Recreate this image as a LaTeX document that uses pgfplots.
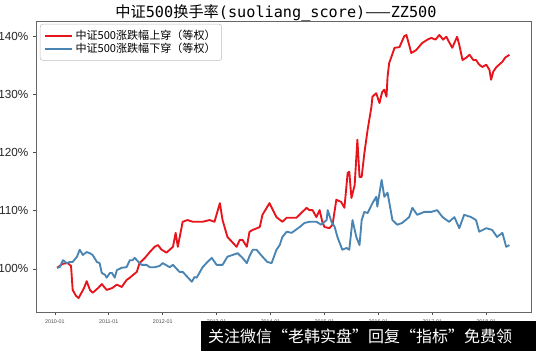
\documentclass[border=0pt]{standalone}
\usepackage{fontspec}
\setmainfont{Liberation Sans}
\newfontfamily\cjk{Noto Sans CJK SC}
\newfontfamily\mono{DejaVu Sans Mono}
\usepackage{pgfplots}
\pgfplotsset{compat=1.18}
\definecolor{mplred}{HTML}{E8141C}
\definecolor{mplblue}{HTML}{4A84B2}
\begin{document}
\begin{tikzpicture}
\useasboundingbox (-27pt,-29.25pt) rectangle (375pt,234pt);
\begin{axis}[
  at={(0,0)}, anchor=south west,
  scale only axis, width=371.25pt, height=218.25pt,
  xmin=2009.65, xmax=2018.83, ymin=92.6, ymax=142.6,
  xtick={2010,2011,2012,2013,2014,2015,2016,2017,2018},
  xticklabels={2010-01,2011-01,2012-01,2013-01,2014-01,2015-01,2016-01,2017-01,2018-01},
  ytick={100,110,120,130,140},
  yticklabels={100\%,110\%,120\%,130\%,140\%},
  tick align=outside, tick pos=left,
  major tick length=2.2pt,
  tick style={black!70, line width=0.5pt},
  axis line style={draw=black!60, line width=0.6pt},
  yticklabel style={font=\fontsize{8.8}{10}\selectfont, text=black!85},
  xticklabel style={font=\fontsize{4}{5}\selectfont, text=black!70},
  legend style={at={(0.008,0.99)}, anchor=north west, draw=black!25, rounded corners=2pt,
    fill=white, font=\cjk\fontsize{8.3}{9}\selectfont, row sep=-3pt, inner sep=2.5pt},
  legend cell align=left,
  legend image code/.code={\draw[#1,line width=1.5pt] (0cm,0cm) -- (0.72cm,0cm);},
]
\addplot[mplred, line width=1.4pt, line join=round] table {
2010.04 100.2
2010.15 100.9
2010.24 101.0
2010.30 100.5
2010.33 96.4
2010.39 95.4
2010.44 95.0
2010.54 96.7
2010.59 97.9
2010.65 96.4
2010.70 95.9
2010.80 96.7
2010.87 97.4
2010.96 96.4
2011.06 96.7
2011.15 97.3
2011.24 96.9
2011.33 98.1
2011.39 98.5
2011.52 99.5
2011.57 101.0
2011.67 101.9
2011.76 102.9
2011.85 103.8
2011.91 104.1
2011.98 103.3
2012.07 102.8
2012.19 103.8
2012.24 106.2
2012.28 103.8
2012.37 108.1
2012.46 108.4
2012.56 108.1
2012.74 108.1
2012.87 108.4
2012.96 108.1
2013.06 111.3
2013.11 108.4
2013.20 105.5
2013.30 104.5
2013.37 103.8
2013.43 105.0
2013.48 105.0
2013.56 103.8
2013.61 106.4
2013.67 106.7
2013.80 107.2
2013.85 109.3
2013.98 111.3
2014.06 109.8
2014.11 108.9
2014.22 108.1
2014.30 108.8
2014.41 108.8
2014.48 108.8
2014.59 109.8
2014.67 110.5
2014.72 110.1
2014.78 110.1
2014.85 108.9
2014.91 110.1
2014.96 108.1
2015.00 107.2
2015.09 107.0
2015.15 107.6
2015.22 111.9
2015.31 111.5
2015.37 110.5
2015.43 116.5
2015.46 116.7
2015.50 112.2
2015.56 114.4
2015.61 122.2
2015.65 115.8
2015.69 115.8
2015.74 119.9
2015.80 123.9
2015.87 127.8
2015.89 129.6
2015.96 130.2
2016.02 128.5
2016.07 130.4
2016.11 130.8
2016.15 129.6
2016.17 133.0
2016.20 135.4
2016.24 136.4
2016.30 138.0
2016.39 138.1
2016.48 140.0
2016.52 140.2
2016.57 138.5
2016.61 137.1
2016.70 137.6
2016.81 138.8
2016.91 139.4
2016.98 139.7
2017.06 139.4
2017.13 140.2
2017.20 139.4
2017.26 139.9
2017.31 139.0
2017.37 138.0
2017.46 139.9
2017.50 138.5
2017.56 135.9
2017.63 136.3
2017.69 136.8
2017.76 135.9
2017.81 135.9
2017.87 135.1
2017.93 134.7
2018.00 135.1
2018.06 134.2
2018.09 132.5
2018.13 133.9
2018.19 134.7
2018.24 135.1
2018.30 135.6
2018.35 136.3
2018.43 136.8
};
\addlegendentry{中证500涨跌幅上穿（等权）}
\addplot[mplblue, line width=1.4pt, line join=round] table {
2010.04 100.2
2010.09 100.3
2010.15 101.5
2010.22 101.0
2010.28 101.2
2010.33 101.2
2010.41 102.1
2010.46 103.3
2010.52 102.4
2010.59 102.9
2010.65 102.7
2010.70 102.4
2010.78 101.2
2010.83 101.0
2010.87 99.3
2010.93 99.0
2010.96 98.5
2011.02 99.3
2011.06 99.3
2011.11 98.5
2011.15 99.8
2011.24 100.2
2011.33 100.3
2011.39 101.5
2011.44 101.5
2011.48 101.9
2011.57 101.0
2011.61 100.7
2011.70 100.7
2011.76 100.3
2011.85 100.3
2011.94 100.5
2012.00 101.0
2012.13 100.3
2012.19 100.7
2012.31 99.5
2012.37 99.5
2012.46 98.6
2012.54 97.8
2012.59 98.6
2012.63 98.5
2012.74 100.3
2012.83 101.2
2012.91 101.9
2013.00 100.7
2013.06 100.7
2013.11 100.7
2013.20 102.1
2013.39 102.7
2013.48 101.9
2013.56 101.0
2013.61 102.2
2013.67 103.3
2013.74 103.3
2013.85 102.1
2013.94 101.2
2014.02 101.0
2014.11 103.3
2014.17 104.1
2014.22 105.5
2014.30 106.4
2014.39 106.2
2014.54 107.2
2014.63 107.9
2014.72 108.1
2014.85 108.1
2014.94 107.6
2015.04 108.4
2015.06 110.1
2015.13 108.1
2015.19 107.2
2015.24 105.5
2015.33 103.3
2015.41 103.6
2015.46 103.3
2015.52 108.4
2015.59 105.5
2015.65 104.1
2015.69 108.4
2015.74 109.8
2015.80 109.6
2015.89 111.3
2015.96 112.4
2015.98 110.7
2016.06 115.3
2016.11 112.4
2016.17 113.1
2016.26 108.4
2016.35 107.6
2016.44 107.9
2016.57 108.9
2016.63 110.5
2016.72 109.3
2016.85 109.8
2016.98 109.8
2017.09 110.1
2017.19 108.9
2017.31 108.1
2017.41 108.9
2017.50 107.0
2017.59 109.3
2017.72 108.9
2017.81 108.4
2017.87 106.4
2018.00 107.0
2018.11 106.7
2018.20 105.5
2018.30 106.2
2018.37 103.8
2018.43 104.1
};
\addlegendentry{中证500涨跌幅下穿（等权）}
\end{axis}
\node[anchor=base, inner sep=0pt, font=\fontsize{11.4}{13}\selectfont] at (180pt,221pt)
  {{\cjk 中证}{\mono 500}{\cjk 换手率}{\mono (suoliang\_score)}{\cjk ——}{\mono ZZ500}};
\fill[black] (123.75pt,-29.25pt) rectangle (375pt,-6.75pt);
\node[text=white, font=\cjk\fontsize{12}{14}\selectfont, inner sep=0pt] at (243pt,-18pt) {关注微信“老韩实盘”回复“指标”免费领};
\end{tikzpicture}
\end{document}
